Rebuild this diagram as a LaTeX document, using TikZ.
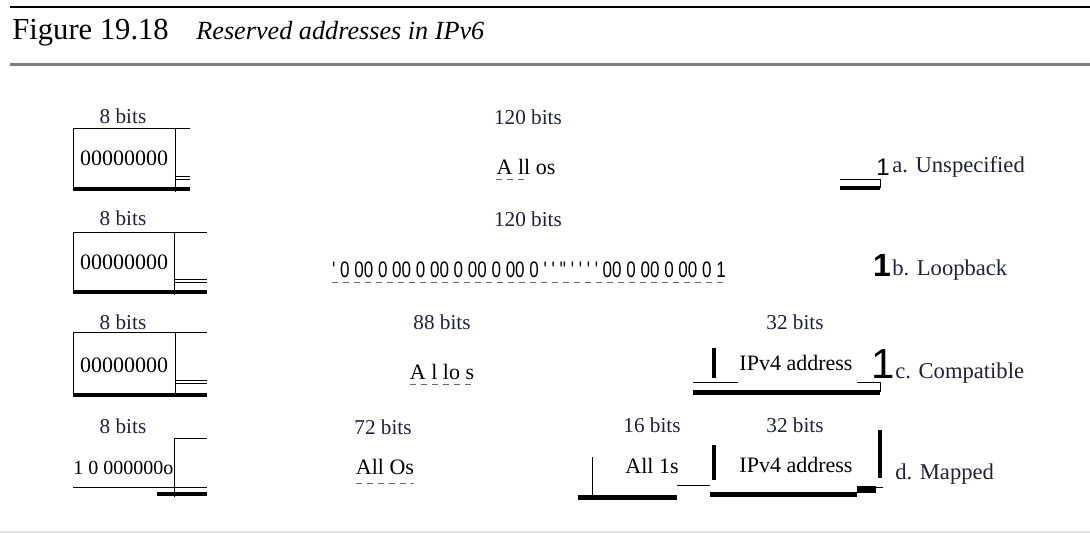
\documentclass[tikz,border=0pt]{standalone}
\usepackage{fontspec}
\setmainfont{Liberation Serif}
\newfontfamily\narrowfont{Liberation Sans}[FakeStretch=0.76]
\newfontfamily\glyphfont{Liberation Sans}
\usetikzlibrary{positioning}
\definecolor{InkDark}{HTML}{1E2236}
\definecolor{RuleGray}{HTML}{7C7C7C}
\tikzset{
  bitlbl/.style={font=\fontsize{10.6}{12}\selectfont, text=InkDark, inner sep=0pt},
  fldtxt/.style={font=\fontsize{11}{13}\selectfont, text=black, inner sep=0pt},
  rowlbl/.style={font=\fontsize{11.3}{13}\selectfont, text=InkDark, inner sep=0pt, anchor=west},
  onemark/.style={font=\glyphfont, text=black, inner sep=0pt},
  thinedge/.style={line width=0.5pt, draw=black},
  thickedge/.style={line width=2pt, draw=black},
  baredge/.style={line width=1.6pt, draw=black},
  dashedge/.style={line width=0.5pt, draw=black!60, dash pattern=on 3pt off 2.5pt},
}
\begin{document}
\begin{tikzpicture}[x=0.5pt, y=-0.5pt]
\useasboundingbox (0,0) rectangle (1090,533);
\draw[line width=1.1pt] (10,7) -- (1090,7);
\draw[line width=1.5pt, RuleGray] (10,65) -- (1090,65);
\draw[line width=0.6pt, black!12] (0,532) -- (1090,532);
\node[anchor=base west, inner sep=0pt, font=\fontsize{15.3}{18}\selectfont] (fig) at (12,40) {Figure 19.18};
\node[anchor=base west, inner sep=0pt, font=\fontsize{13.1}{16}\selectfont\itshape] (cap) at (196,40) {Reserved addresses in IPv6};
\node[bitlbl] (a8) at (123,116) {8 bits};
\node[bitlbl] (a120) at (528,117) {120 bits};
\node[fldtxt] (azero) at (124,158) {00000000};
\node[fldtxt] (aall) at (526,167) {A ll os};
\draw[dashedge] ([yshift=-2pt]aall.south west) -- ([yshift=-2pt]aall.south);
\node[onemark, font=\glyphfont\fontsize{12}{12}\selectfont] (aone) at (883,167) {1};
\node[rowlbl] (alab) at (892,167) {a. Unspecified};
\draw[thinedge] (190,129) -- (73,129) -- (73,189);
\draw[thinedge] (175,129) -- (175,192);
\draw[thinedge] (175,177) -- (190,177);
\draw[thinedge] (175,180) -- (190,180);
\draw[thickedge] (73,189) -- (190,189);
\draw[thinedge] (840,180) -- (880,180) -- (880,188);
\draw[thickedge] (840,188) -- (880,188);
\node[bitlbl] (b8) at (123,218) {8 bits};
\node[bitlbl] (b120) at (528,219) {120 bits};
\node[fldtxt] (bzero) at (124,262) {00000000};
\node[fldtxt, font=\narrowfont\fontsize{11.2}{13}\selectfont] (bstr) at (529,270) {' 0 00 0 00 0 00 0 00 0 00 0 ' ' '' ' ' ' ' 00 0 00 0 00 0 1};
\draw[dashedge] ([yshift=-2pt]bstr.south west) -- ([yshift=-2pt]bstr.south east);
\node[onemark, font=\glyphfont\bfseries\fontsize{16}{16}\selectfont] (bone) at (882,265) {1};
\node[rowlbl] (blab) at (892,270) {b. Loopback};
\draw[thinedge] (207,233) -- (73,233) -- (73,292);
\draw[thinedge] (174,233) -- (174,295);
\draw[thinedge] (174,280) -- (207,280);
\draw[thinedge] (174,283) -- (207,283);
\draw[thickedge] (73,292) -- (207,292);
\node[bitlbl] (c8) at (123,322) {8 bits};
\node[bitlbl] (c88) at (442,322) {88 bits};
\node[bitlbl] (c32) at (795,322) {32 bits};
\node[fldtxt] (czero) at (124,365) {00000000};
\node[fldtxt] (call) at (442,372) {A l lo s};
\draw[dashedge] ([yshift=-2pt]call.south west) -- ([yshift=-2pt]call.south east);
\node[fldtxt] (cip) at (796,363) {IPv4 address};
\node[onemark, font=\glyphfont\fontsize{21}{21}\selectfont] (cone) at (883,364) {1};
\node[rowlbl] (clab) at (895,373) {c. Compatible};
\draw[thinedge] (207,333) -- (73,333) -- (73,395);
\draw[thinedge] (175,333) -- (175,397);
\draw[thinedge] (175,381) -- (207,381);
\draw[thinedge] (175,384) -- (207,384);
\draw[thickedge] (73,395) -- (207,395);
\draw[baredge] (714,348) -- (714,378);
\draw[thinedge] (693,383) -- (738,383);
\draw[thinedge] (857,383) -- (880,383) -- (880,392);
\draw[line width=2.5pt] (693,393) -- (880,393);
\node[bitlbl] (d8) at (123,426) {8 bits};
\node[bitlbl] (d72) at (383,427) {72 bits};
\node[bitlbl] (d16) at (652,425) {16 bits};
\node[bitlbl] (d32) at (795,425) {32 bits};
\node[fldtxt, anchor=west, font=\fontsize{10}{12}\selectfont] (dzero) at (73,468) {1 0 000000o};
\node[fldtxt] (dall) at (385,467) {All Os};
\draw[dashedge] ([yshift=-4pt]dall.south west) -- ([yshift=-4pt]dall.south east);
\node[fldtxt] (dones) at (652,466) {All 1s};
\node[fldtxt] (dip) at (796,465) {IPv4 address};
\node[rowlbl] (dlab) at (895,474) {d. Mapped};
\draw[thinedge] (73,487) -- (207,487);
\draw[thinedge] (207,438) -- (174,438) -- (174,497);
\draw[thickedge] (157,494) -- (207,494);
\draw[thinedge] (592,457) -- (592,497);
\draw[line width=2.5pt] (578,497) -- (677,497);
\draw[thinedge] (677,485) -- (710,485);
\draw[baredge] (714,445) -- (714,480);
\draw[line width=2.5pt] (710,494) -- (857,494);
\fill (857,486) rectangle (876,493);
\draw[thinedge] (857,487) -- (883,487);
\draw[baredge] (880,430) -- (880,478);
\end{tikzpicture}
\end{document}
